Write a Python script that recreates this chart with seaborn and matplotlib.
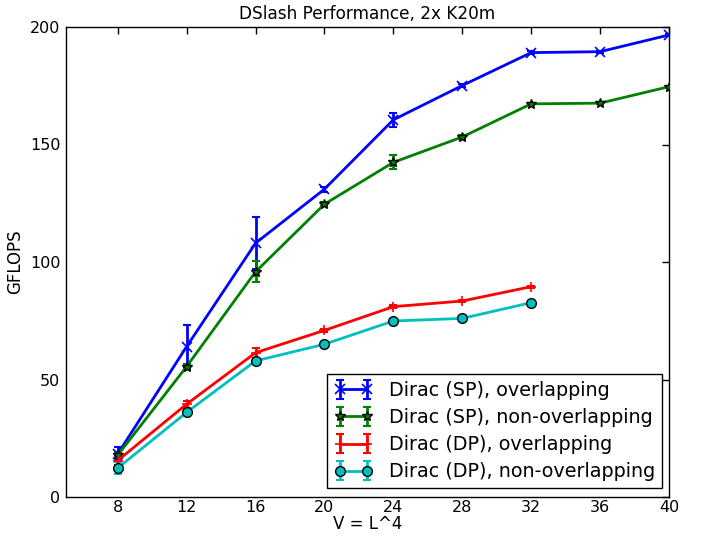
import matplotlib
matplotlib.use("Agg")
import matplotlib.pyplot as plt
import seaborn as sns
import pandas as pd
from matplotlib.legend_handler import HandlerTuple

# ---- data ----
x_sp = [8, 12, 16, 20, 24, 28, 32, 36, 40]
x_dp = [8, 12, 16, 20, 24, 28, 32]

sp_ovl = [18.3, 64.0, 108.0, 131.0, 160.5, 175.1, 189.1, 189.5, 196.6]
sp_ovl_err = [3.0, 9.0, 11.0, 1.0, 3.0, 0.8, 0.5, 0.5, 0.5]

sp_novl = [17.8, 55.5, 95.8, 124.6, 142.4, 153.2, 167.3, 167.6, 174.6]
sp_novl_err = [1.5, 1.0, 4.5, 0.8, 3.0, 0.8, 0.5, 0.5, 0.5]

dp_ovl = [15.5, 39.5, 61.4, 70.9, 81.0, 83.4, 89.5]
dp_ovl_err = [2.0, 1.5, 2.2, 0.5, 0.5, 0.5, 0.5]

dp_novl = [12.3, 36.0, 57.9, 65.0, 74.9, 76.0, 82.7]
dp_novl_err = [2.5, 1.0, 0.8, 1.0, 1.0, 0.5, 0.5]

labels = ["Dirac (SP), overlapping", "Dirac (SP), non-overlapping",
          "Dirac (DP), overlapping", "Dirac (DP), non-overlapping"]
colors = ["#0000ff", "#008000", "#ff0000", "#00bfbf"]
markers = ["x", "*", "+", "o"]

xt = [8, 12, 16, 20, 24, 28, 32, 36, 40]
yt = [0, 50, 100, 150, 200]

sns.set_style("white")
plt.rcParams["font.family"] = ["DejaVu Sans"]
plt.rcParams["font.size"] = 12
plt.rcParams["text.color"] = "k"
plt.rcParams["axes.labelcolor"] = "k"
plt.rcParams["xtick.color"] = "k"
plt.rcParams["ytick.color"] = "k"

fig = plt.figure(figsize=(7.02, 5.38), dpi=100)
ax = fig.add_axes([66/702, 1-497/538, (669-66)/702, (497-27)/538])

series = [(x_sp, sp_ovl, sp_ovl_err), (x_sp, sp_novl, sp_novl_err),
          (x_dp, dp_ovl, dp_ovl_err), (x_dp, dp_novl, dp_novl_err)]

handles = []
for (xs, ys, es), lab, c, m in zip(series, labels, colors, markers):
    df = pd.DataFrame({"V": xs, "GFLOPS": ys})
    n_before = len(ax.lines)
    filled = m in ("*", "o")
    sns.lineplot(data=df, x="V", y="GFLOPS", ax=ax, color=c, lw=2,
                 marker=m, markersize=7,
                 markerfacecolor=c,
                 markeredgecolor="k" if filled else c,
                 markeredgewidth=1 if filled else 1.2,
                 legend=False, zorder=3)
    line = ax.lines[n_before]
    eb = ax.errorbar(xs, ys, yerr=es, fmt="none", ecolor=c, elinewidth=2,
                     capsize=3, capthick=1.5, zorder=2)
    handles.append((eb, line))

ax.set_xlim(5, 40)
ax.set_ylim(0, 200)
ax.set_xticks(xt)
ax.set_yticks(yt)
ax.tick_params(direction="in", top=True, right=True, length=5, width=1,
               labelsize=11.5, colors="k", pad=4)
ax.tick_params(axis="x", pad=2.5)
for s in ax.spines.values():
    s.set_color("k")
    s.set_linewidth(1)

ax.set_title("DSlash Performance, 2x K20m", fontsize=12.2, pad=6, color="k")
ax.set_xlabel("V = L^4", fontsize=12, labelpad=0)
ax.set_ylabel("GFLOPS", fontsize=12, labelpad=4)

leg = ax.legend(handles, labels, loc="lower right",
                bbox_to_anchor=((661.5-66)/(669-66), 9/470),
                borderaxespad=0, numpoints=2, fancybox=False,
                framealpha=1, edgecolor="k", fontsize=13.8,
                handlelength=2.0, handletextpad=0.85, labelspacing=0.42,
                borderpad=0.35,
                handler_map={tuple: HandlerTuple(ndivide=1, pad=0)})
leg.get_frame().set_linewidth(1)
for t in leg.get_texts():
    t.set_color("k")

fig.savefig("out.png", dpi=100)
